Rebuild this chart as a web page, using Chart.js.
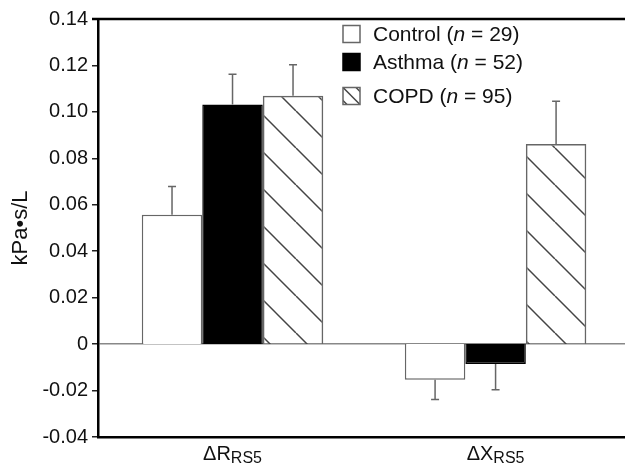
<!DOCTYPE html>
<html>
<head>
<meta charset="utf-8">
<script src="https://cdn.jsdelivr.net/npm/chart.js@4/dist/chart.umd.min.js"></script>
<style>
  html, body { margin: 0; padding: 0; background: #fff; }
  #wrap { width: 625px; height: 466px; }
</style>
</head>
<body>
<div id="wrap"><canvas id="impChart" width="625" height="466"></canvas></div>
<script>
"use strict";

// ---------- data ----------
const categoryMain = ["ΔR", "ΔX"];
const categorySub = ["RS5", "RS5"];
const categoryPos = [1, 2];

const groupNames = ["Control", "Asthma", "COPD"];
const groupN = [29, 52, 95];

const controlMean = [0.0557, -0.0154];
const controlErr = [0.0122, 0.0085];
const asthmaMean = [0.1032, -0.0086];
const asthmaErr = [0.013, 0.011];
const copdMean = [0.1069, 0.0862];
const copdErr = [0.0134, 0.0184];

const yMin = -0.04;
const yMax = 0.14;
const yStep = 0.02;

const FONT = "'Liberation Sans', Arial, sans-serif";

// hatch pattern "\\\" for COPD
function makeHatch(size, color) {
  const c = document.createElement("canvas");
  c.width = size;
  c.height = size;
  const g = c.getContext("2d");
  g.strokeStyle = color;
  g.lineWidth = 1.5;
  [-size, 0, size].forEach((x0) => {
    g.beginPath();
    g.moveTo(x0, 0);
    g.lineTo(x0 + size, size);
    g.stroke();
  });
  return g.createPattern(c, "repeat");
}

const ctx = document.getElementById("impChart").getContext("2d");
const hatch = makeHatch(37, "#444");

function toPoints(means) {
  return means.map((v, i) => ({ x: categoryPos[i], y: v }));
}

const errors = [controlErr, asthmaErr, copdErr];

// error bars (one side, away from zero)
const errorBarPlugin = {
  id: "errorBars",
  afterDatasetsDraw(chart) {
    const y = chart.scales.y;
    const c = chart.ctx;
    c.save();
    c.strokeStyle = "#666";
    c.lineWidth = 1.5;
    chart.data.datasets.forEach((ds, di) => {
      const meta = chart.getDatasetMeta(di);
      meta.data.forEach((bar, i) => {
        const v = ds.data[i].y;
        const end = v + Math.sign(v) * errors[di][i];
        const y0 = y.getPixelForValue(v);
        const y1 = y.getPixelForValue(end);
        c.beginPath();
        c.moveTo(bar.x, y0);
        c.lineTo(bar.x, y1);
        c.moveTo(bar.x - 4, y1);
        c.lineTo(bar.x + 4, y1);
        c.stroke();
      });
    });
    c.restore();
  },
};

// top frame line, x labels with subscripts, legend
const decorPlugin = {
  id: "decor",
  afterDraw(chart) {
    const c = chart.ctx;
    const area = chart.chartArea;
    c.save();

    // top line
    c.strokeStyle = "#000";
    c.lineWidth = 2.5;
    c.beginPath();
    c.moveTo(area.left - 6, area.top);
    c.lineTo(area.right, area.top);
    c.stroke();

    // x labels
    c.fillStyle = "#111";
    c.textBaseline = "alphabetic";
    categoryMain.forEach((lab, i) => {
      const cx = chart.scales.x.getPixelForValue(categoryPos[i]);
      c.font = "20px " + FONT;
      const w1 = c.measureText(lab).width;
      c.font = "16px " + FONT;
      const w2 = c.measureText(categorySub[i]).width;
      const x0 = cx - (w1 + w2) / 2;
      c.font = "20px " + FONT;
      c.textAlign = "left";
      c.fillText(lab, x0, 460);
      c.font = "16px " + FONT;
      c.fillText(categorySub[i], x0 + w1, 463);
    });

    // legend
    const rowsY = [34, 62, 96];
    const boxX = 343, box = 17, textX = 373;
    groupNames.forEach((name, i) => {
      const cy = rowsY[i];
      const by = cy - box / 2;
      if (i === 0) {
        c.fillStyle = "#fff";
        c.fillRect(boxX, by, box, box);
      } else if (i === 1) {
        c.fillStyle = "#000";
        c.fillRect(boxX, by, box, box);
      } else {
        c.save();
        c.beginPath();
        c.rect(boxX, by, box, box);
        c.clip();
        c.strokeStyle = "#444";
        c.lineWidth = 1.5;
        [-13, 0, 13].forEach((d) => {
          c.beginPath();
          c.moveTo(boxX + d, by);
          c.lineTo(boxX + d + box, by + box);
          c.stroke();
        });
        c.restore();
      }
      c.strokeStyle = i === 1 ? "#000" : "#666";
      c.lineWidth = 1.5;
      c.strokeRect(boxX, by, box, box);

      c.fillStyle = "#111";
      c.textBaseline = "middle";
      c.textAlign = "left";
      let x = textX;
      const parts = [
        [name + " (", "21px " + FONT],
        ["n", "italic 21px " + FONT],
        [" = " + groupN[i] + ")", "21px " + FONT],
      ];
      parts.forEach(([t, f]) => {
        c.font = f;
        c.fillText(t, x, cy + 1);
        x += c.measureText(t).width;
      });
    });

    c.restore();
  },
};

new Chart(ctx, {
  type: "bar",
  data: {
    datasets: [
      {
        label: groupNames[0],
        data: toPoints(controlMean),
        backgroundColor: "#fff",
        borderColor: "#666",
        borderWidth: 1.5,
      },
      {
        label: groupNames[1],
        data: toPoints(asthmaMean),
        backgroundColor: "#000",
        borderColor: "#000",
        borderWidth: 1.5,
      },
      {
        label: groupNames[2],
        data: toPoints(copdMean),
        backgroundColor: hatch,
        borderColor: "#666",
        borderWidth: 1.5,
      },
    ],
  },
  options: {
    responsive: false,
    animation: false,
    layout: { padding: { top: 19, right: 0, bottom: 0, left: 0 } },
    datasets: { bar: { categoryPercentage: 0.69, barPercentage: 1.0 } },
    plugins: { legend: { display: false }, tooltip: { enabled: false } },
    scales: {
      x: {
        type: "linear",
        offset: false,
        min: 0.4886,
        max: 2.492,
        afterBuildTicks(scale) {
          scale.ticks = categoryPos.map((v) => ({ value: v }));
        },
        afterFit(scale) {
          scale.height = 29;
        },
        ticks: { display: false },
        grid: { display: false, offset: false },
        border: { display: true, color: "#000", width: 2.5 },
      },
      y: {
        min: yMin,
        max: yMax,
        afterFit(scale) {
          scale.width = 98;
        },
        ticks: {
          stepSize: yStep,
          color: "#111",
          padding: 4,
          font: { family: FONT, size: 20 },
          callback: (v) => (Math.abs(v) < 1e-9 ? "0" : Number(v).toFixed(2)),
        },
        grid: {
          drawOnChartArea: true,
          color: (c) => (c.tick && Math.abs(c.tick.value) < 1e-9 ? "#888" : "rgba(0,0,0,0)"),
          lineWidth: 1.5,
          tickColor: "#222",
          tickWidth: 1.5,
          tickLength: 6,
        },
        border: { display: true, color: "#000", width: 2.5 },
        title: {
          display: true,
          text: "kPa•s/L",
          color: "#111",
          font: { family: FONT, size: 22 },
          padding: { top: 8, bottom: 0 },
        },
      },
    },
  },
  plugins: [errorBarPlugin, decorPlugin],
});
</script>
</body>
</html>
